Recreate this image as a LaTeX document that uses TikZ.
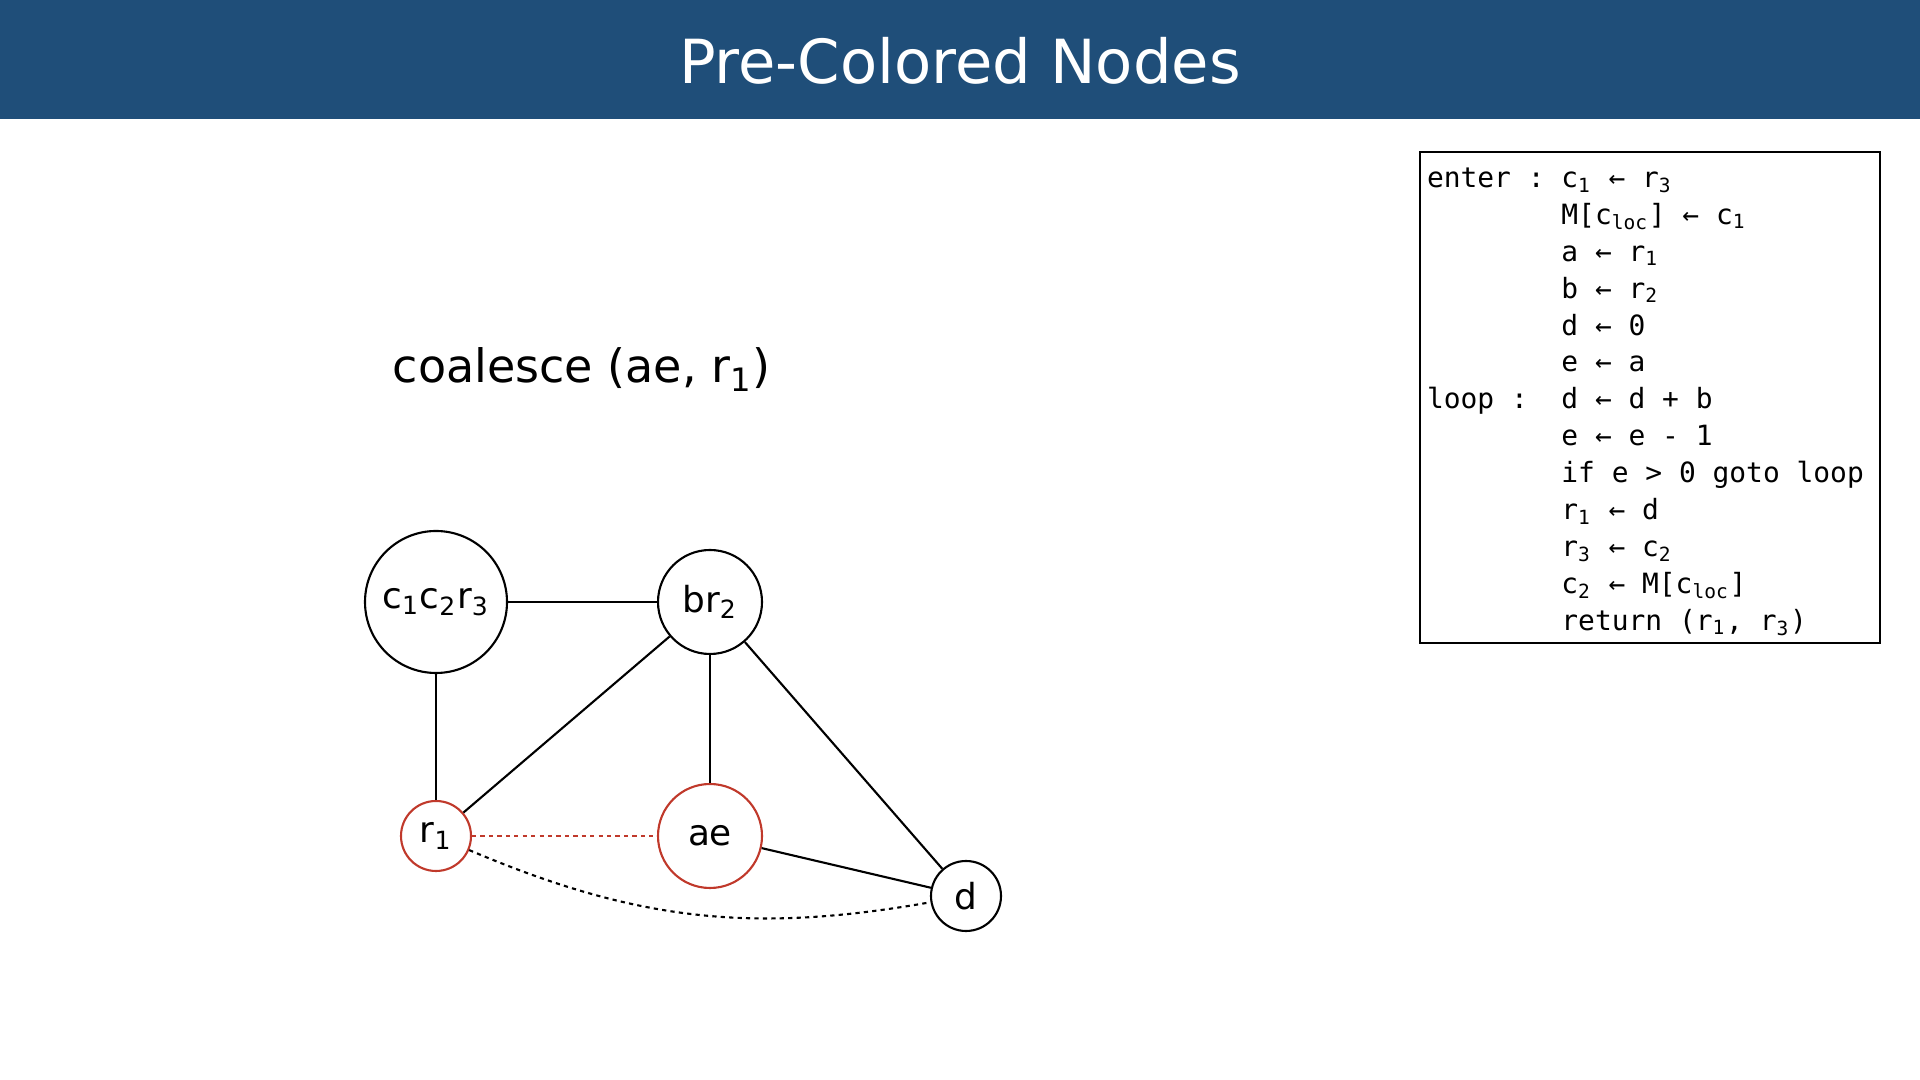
\documentclass[tikz,border=0pt]{standalone}
\usepackage{fontspec}
\setmainfont{DejaVu Sans}
\newfontfamily\codefont{DejaVu Sans Mono}
\usepackage{tikz}
\definecolor{header}{RGB}{31,78,121}
\definecolor{precolor}{RGB}{192,57,43}
\newcommand{\lbl}[1]{\makebox[8\fontcharwd\font`M][l]{#1}}
\newcommand{\monospace}{\spaceskip=\fontcharwd\font`M\relax \xspaceskip=\spaceskip}

\begin{document}
\begin{tikzpicture}
        % Define styles
        \tikzstyle{vertex} = [circle, draw, line width=0.6pt, inner sep=0pt, font=\fontsize{10.2}{12}\selectfont]
        \tikzstyle{precolored} = [vertex, draw=precolor]
        \tikzstyle{edge} = [line width=0.6pt]
        \tikzstyle{move} = [line width=0.6pt, dash pattern=on 1.2pt off 1.2pt]

        % Canvas and header
        \useasboundingbox (0, 0) rectangle (19.2, 10.8);
        \fill[header] (0, 9.61) rectangle (19.2, 10.8);
        \node[white, font=\fontsize{17.3}{20}\selectfont, anchor=base] (title) at (9.6, 9.96) {Pre-Colored Nodes};

        % Caption
        \node[font=\fontsize{13.1}{16}\selectfont, anchor=base west, inner sep=0pt] (caption) at (3.92, 6.97) {coalesce (ae, r\textsubscript{1})};

        % Interference graph
        \node[vertex, minimum size=1.42cm] (ccr) at (4.36, 4.78) {c\textsubscript{1}c\textsubscript{2}r\textsubscript{3}};
        \node[vertex, minimum size=1.04cm] (br) at (7.10, 4.78) {br\textsubscript{2}};
        \node[precolored, minimum size=0.70cm] (r1) at (4.36, 2.44) {r\textsubscript{1}};
        \node[precolored, minimum size=1.04cm] (ae) at (7.10, 2.44) {ae};
        \node[vertex, minimum size=0.70cm] (d) at (9.66, 1.84) {d};

        % Edges
        \draw[edge] (ccr) -- (br);
        \draw[edge] (ccr) -- (r1);
        \draw[edge] (br) -- (r1);
        \draw[edge] (br) -- (ae);
        \draw[edge] (br) -- (d);
        \draw[edge] (ae) -- (d);

        % Move edges
        \draw[move, precolor] (r1) -- (ae);
        \draw[move] (r1) to[out=-23, in=190] (d);

        % Code listing
        \node[draw, line width=0.5pt, text width=4.46cm, inner xsep=0.07cm, inner ysep=0pt, minimum height=4.91cm, align=left, font=\codefont\fontsize{7.94}{10.5}\selectfont] (code) at (16.5, 6.825) {%
            \monospace\rule{0pt}{1em}\lbl{enter :}c\textsubscript{1} ← r\textsubscript{3}\\
            \lbl{}M[c\textsubscript{loc}] ← c\textsubscript{1}\\
            \lbl{}a ← r\textsubscript{1}\\
            \lbl{}b ← r\textsubscript{2}\\
            \lbl{}d ← 0\\
            \lbl{}e ← a\\
            \lbl{loop :}d ← d + b\\
            \lbl{}e ← e - 1\\
            \lbl{}if e > 0 goto loop\\
            \lbl{}r\textsubscript{1} ← d\\
            \lbl{}r\textsubscript{3} ← c\textsubscript{2}\\
            \lbl{}c\textsubscript{2} ← M[c\textsubscript{loc}]\\
            \lbl{}return (r\textsubscript{1}, r\textsubscript{3})};

    \end{tikzpicture}
\end{document}
